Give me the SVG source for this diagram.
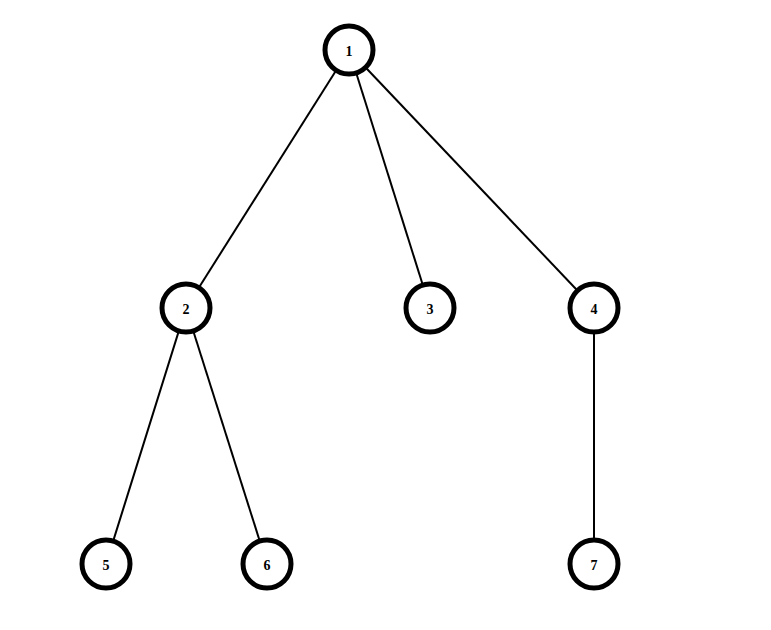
<svg xmlns="http://www.w3.org/2000/svg" width="771" height="630" viewBox="0 0 771 630">
<style>
.node circle{fill:#fff;stroke:#000;stroke-width:5}
.node text{font-family:"Liberation Serif",serif;font-weight:bold;font-size:14px;text-anchor:middle;dominant-baseline:central;fill:#000}
#edges line{stroke:#000;stroke-width:2}
</style>
<rect width="771" height="630" fill="#fff"/>
<g id="edges">
<line x1="349" y1="50" x2="186" y2="308"/>
<line x1="349" y1="50" x2="430" y2="308"/>
<line x1="349" y1="50" x2="594" y2="308"/>
<line x1="186" y1="308" x2="106" y2="564"/>
<line x1="186" y1="308" x2="267" y2="564"/>
<line x1="594" y1="308" x2="594" y2="564"/>
</g>
<g id="n1" class="node"><circle cx="349" cy="50" r="24"/><text x="349" y="51">1</text></g>
<g id="n2" class="node"><circle cx="186" cy="308" r="24"/><text x="186" y="309">2</text></g>
<g id="n3" class="node"><circle cx="430" cy="308" r="24"/><text x="430" y="309">3</text></g>
<g id="n4" class="node"><circle cx="594" cy="308" r="24"/><text x="594" y="309">4</text></g>
<g id="n5" class="node"><circle cx="106" cy="564" r="24"/><text x="106" y="565">5</text></g>
<g id="n6" class="node"><circle cx="267" cy="564" r="24"/><text x="267" y="565">6</text></g>
<g id="n7" class="node"><circle cx="594" cy="564" r="24"/><text x="594" y="565">7</text></g>
</svg>
